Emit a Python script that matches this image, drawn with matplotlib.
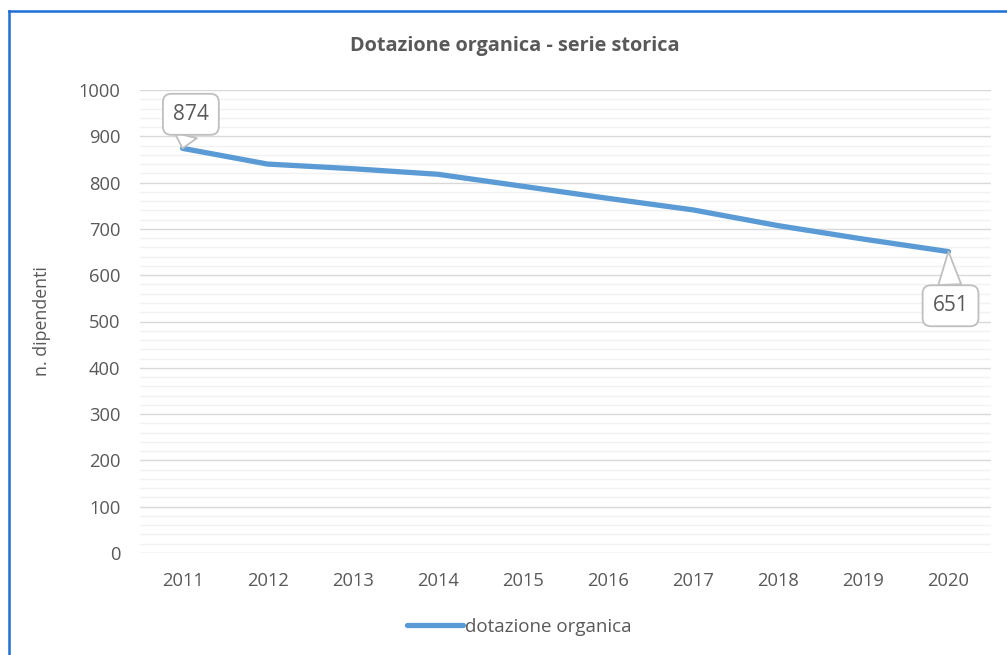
import matplotlib
matplotlib.use("Agg")
import matplotlib.pyplot as plt
from matplotlib.ticker import MultipleLocator
from matplotlib.lines import Line2D

years = ["2011", "2012", "2013", "2014", "2015", "2016", "2017", "2018", "2019", "2020"]
dotazione = [874, 840, 830, 818, 792, 766, 741, 707, 678, 651]
series_name = "dotazione organica"
title = "Dotazione organica - serie storica"
ylabel = "n. dipendenti"

plt.rcParams['font.family'] = ['Open Sans', 'DejaVu Sans']
txt = '#595959'

fig = plt.figure(figsize=(10.07, 6.55), dpi=100)
ax = fig.add_axes([140/1007, 1-553/655, (991-140)/1007, (553-90)/655])

x = list(range(len(years)))
line, = ax.plot(x, dotazione, color='#5b9bd5', lw=3.8, solid_capstyle='round',
                solid_joinstyle='round', zorder=3, label=series_name)

ax.set_xlim(-0.5, len(years) - 0.5)
ax.set_ylim(0, 1000)
ax.yaxis.set_major_locator(MultipleLocator(100))
ax.yaxis.set_minor_locator(MultipleLocator(20))
ax.set_xticks(x)
ax.set_xticklabels(years)
ax.grid(which='major', axis='y', color='#d9d9d9', lw=1.0, zorder=1)
ax.grid(which='minor', axis='y', color='#f2f2f2', lw=1.0, zorder=0)
for s in ax.spines.values():
    s.set_visible(False)
ax.tick_params(which='both', length=0, colors=txt, labelsize=13.2)
ax.tick_params(axis='y', pad=14)
ax.tick_params(axis='x', pad=14)
ax.set_ylabel(ylabel, color=txt, fontsize=12.8, labelpad=20)

fig.text(515/1007, 1-46/655, title, ha='center', va='center', fontsize=14.3,
         fontweight='bold', color=txt)

# callouts
def callout(i, dx, dy):
    ax.annotate(str(dotazione[i]), xy=(x[i], dotazione[i]), xytext=(dx, dy),
                textcoords='offset points', ha='center', va='center',
                fontsize=15, color=txt, zorder=5,
                bbox=dict(boxstyle='round,pad=0.48,rounding_size=0.4', fc='white',
                          ec='#bfbfbf', lw=1.3),
                arrowprops=dict(arrowstyle='wedge,tail_width=1.1,shrink_factor=0.5',
                                fc='white', ec='#bfbfbf', lw=1.3,
                                shrinkA=0, shrinkB=0))

callout(0, 6, 24.5)
callout(len(years) - 1, 1.5, -39)

fig.legend(handles=[line], labels=[series_name], loc='center',
           bbox_to_anchor=(519/1007, 1-627/655), frameon=False, fontsize=13.5,
           handlelength=3.0, handletextpad=0.1, labelcolor=txt)

# outer border (blue, visible top and left)
bc = '#1f6fd2'
fig.add_artist(Line2D([9/1007, 9/1007], [1-11/655, -0.05], color=bc, lw=1.8,
                      transform=fig.transFigure))
fig.add_artist(Line2D([9/1007, 1.05], [1-11/655, 1-11/655], color=bc, lw=1.8,
                      transform=fig.transFigure))

fig.savefig('out.png', dpi=100, facecolor='white')
